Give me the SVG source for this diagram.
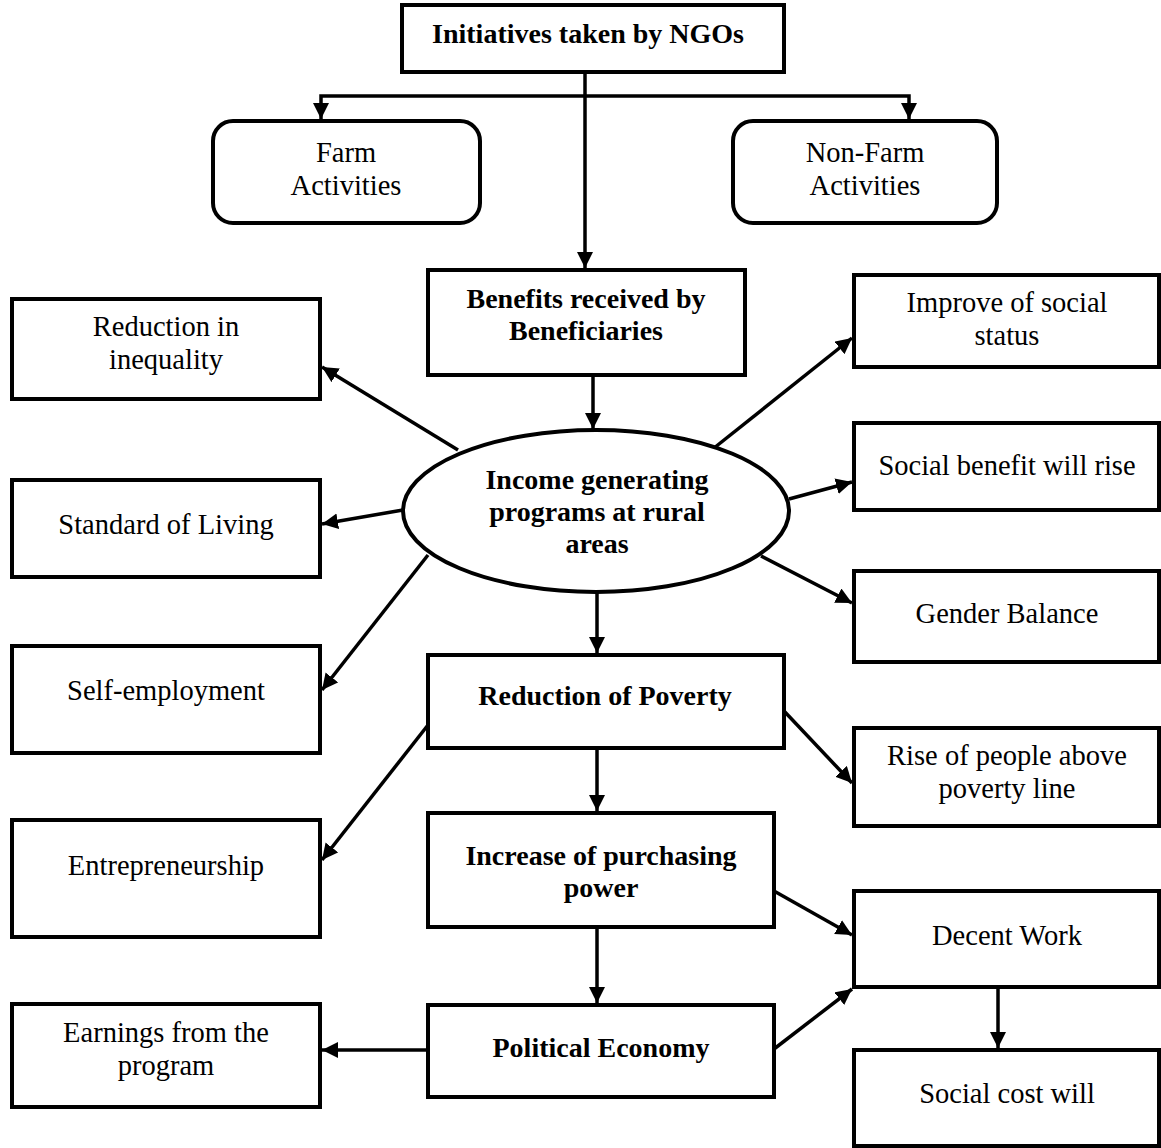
<svg xmlns="http://www.w3.org/2000/svg" width="1161" height="1148" viewBox="0 0 1161 1148">
<style>
.box{fill:#fff;stroke:#000;stroke-width:4}
.t{font-family:"Liberation Serif","Times New Roman",serif;font-size:28.5px;fill:#000;text-anchor:middle}
.b{font-family:"Liberation Serif","Times New Roman",serif;font-size:28px;font-weight:bold;fill:#000;text-anchor:middle}
.c{fill:none;stroke:#000;stroke-width:3.5;marker-end:url(#ah)}
</style>
<defs>
<marker id="ah" markerUnits="userSpaceOnUse" markerWidth="17" markerHeight="17" refX="16" refY="8" orient="auto">
<path d="M0,0 L16,8 L0,16 z" fill="#000"/>
</marker>
</defs>
<rect width="1161" height="1148" fill="#fff"/>
<g id="connectors">
<path class="c" d="M585,72 V268"/>
<path class="c" d="M585,96 H321 V119"/>
<path class="c" d="M585,96 H909 V119"/>
<path class="c" d="M593,375 V429"/>
<path class="c" d="M597,592 V653"/>
<path class="c" d="M597,748 V811"/>
<path class="c" d="M597,927 V1003"/>
<path class="c" d="M458,450 L322,367"/>
<path class="c" d="M403,510 L322,524"/>
<path class="c" d="M428,555 L322,690"/>
<path class="c" d="M428,725 L322,860"/>
<path class="c" d="M428,1050 L322,1050"/>
<path class="c" d="M714,448 L852,338"/>
<path class="c" d="M789,499 L852,482"/>
<path class="c" d="M761,556 L852,603"/>
<path class="c" d="M784,711 L852,783"/>
<path class="c" d="M774,891 L852,935"/>
<path class="c" d="M774,1049 L852,989"/>
<path class="c" d="M998,987 V1048"/>
</g>
<g id="n-initiatives"><rect class="box" x="402" y="5" width="382" height="67"/><text class="b" x="588" y="43">Initiatives taken by NGOs</text></g>
<g id="n-farm"><rect class="box" x="213" y="121" width="267" height="102" rx="20"/><text class="t" x="346" y="162">Farm</text><text class="t" x="346" y="195">Activities</text></g>
<g id="n-nonfarm"><rect class="box" x="733" y="121" width="264" height="102" rx="20"/><text class="t" x="865" y="162">Non-Farm</text><text class="t" x="865" y="195">Activities</text></g>
<g id="n-benefits"><rect class="box" x="428" y="270" width="317" height="105"/><text class="b" x="586" y="308">Benefits received by</text><text class="b" x="586" y="340">Beneficiaries</text></g>
<g id="n-income"><ellipse class="box" cx="596" cy="511" rx="193" ry="81"/><text class="b" x="597" y="489">Income generating</text><text class="b" x="597" y="521">programs at rural</text><text class="b" x="597" y="553">areas</text></g>
<g id="n-poverty"><rect class="box" x="428" y="655" width="356" height="93"/><text class="b" x="605" y="705">Reduction of Poverty</text></g>
<g id="n-purchasing"><rect class="box" x="428" y="813" width="346" height="114"/><text class="b" x="601" y="865">Increase of purchasing</text><text class="b" x="601" y="897">power</text></g>
<g id="n-political"><rect class="box" x="428" y="1005" width="346" height="92"/><text class="b" x="601" y="1057">Political Economy</text></g>
<g id="n-inequality"><rect class="box" x="12" y="299" width="308" height="100"/><text class="t" x="166" y="336">Reduction in</text><text class="t" x="166" y="369">inequality</text></g>
<g id="n-standard"><rect class="box" x="12" y="480" width="308" height="97"/><text class="t" x="166" y="534">Standard of Living</text></g>
<g id="n-selfemp"><rect class="box" x="12" y="646" width="308" height="107"/><text class="t" x="166" y="700">Self-employment</text></g>
<g id="n-entre"><rect class="box" x="12" y="820" width="308" height="117"/><text class="t" x="166" y="875">Entrepreneurship</text></g>
<g id="n-earnings"><rect class="box" x="12" y="1004" width="308" height="103"/><text class="t" x="166" y="1042">Earnings from the</text><text class="t" x="166" y="1075">program</text></g>
<g id="n-improve"><rect class="box" x="854" y="275" width="305" height="92"/><text class="t" x="1007" y="312">Improve of social</text><text class="t" x="1007" y="345">status</text></g>
<g id="n-socialbenefit"><rect class="box" x="854" y="423" width="305" height="87"/><text class="t" x="1007" y="475">Social benefit will rise</text></g>
<g id="n-gender"><rect class="box" x="854" y="571" width="305" height="91"/><text class="t" x="1007" y="623">Gender Balance</text></g>
<g id="n-rise"><rect class="box" x="854" y="728" width="305" height="98"/><text class="t" x="1007" y="765">Rise of people above</text><text class="t" x="1007" y="798">poverty line</text></g>
<g id="n-decent"><rect class="box" x="854" y="891" width="305" height="96"/><text class="t" x="1007" y="945">Decent Work</text></g>
<g id="n-socialcost"><rect class="box" x="854" y="1050" width="305" height="96"/><text class="t" x="1007" y="1103">Social cost will</text></g>
</svg>
